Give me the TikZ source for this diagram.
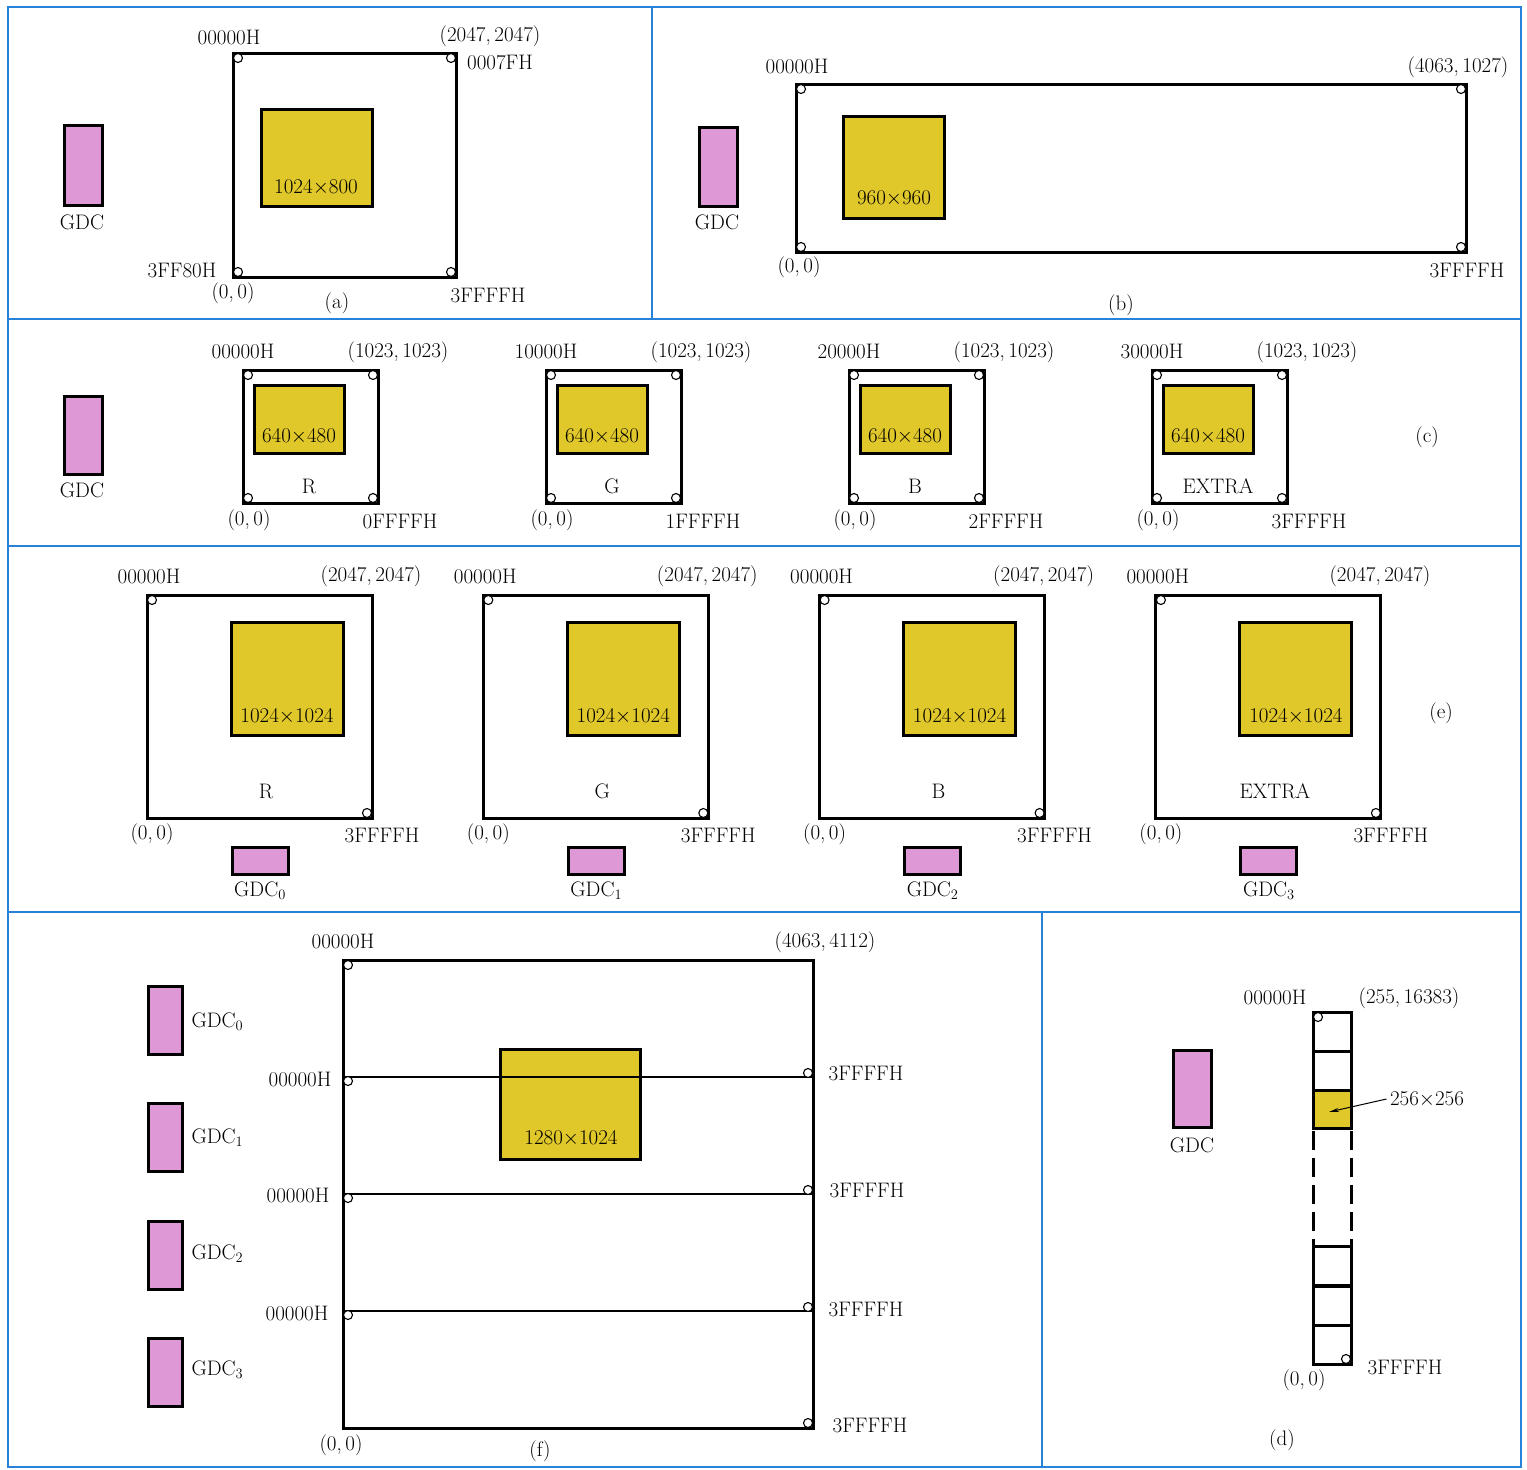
\documentclass[tikz,border=0pt]{standalone}
\usepackage{fontspec}
\usetikzlibrary{arrows.meta}
\definecolor{gdcpink}{RGB}{222,152,214}
\definecolor{winyellow}{RGB}{225,200,42}
\definecolor{frameblue}{RGB}{40,130,215}
\begin{document}
\begin{tikzpicture}[x=1pt, y=-1pt, font=\fontsize{21}{24}\selectfont,
  mem/.style={line width=3pt},
  win/.style={draw, line width=3pt, fill=winyellow},
  gdc/.style={draw, line width=3pt, fill=gdcpink},
  hole/.style={draw, line width=1.1pt, fill=white},
  frame/.style={frameblue, line width=1.8pt}]
\useasboundingbox (0,0) rectangle (1527,1470);
% panel frames
\draw[frame] (8,7) rectangle (1521,1467);
\draw[frame] (8,319) -- (1521,319) (8,546) -- (1521,546) (8,912) -- (1521,912);
\draw[frame] (652,7) -- (652,319) (1042,912) -- (1042,1467);

% (a) one GDC, 2048 x 2048 screen
\draw[gdc] (64,125) rectangle (102,205);
\node (a-gdc) at (82,222) {GDC};
\draw[mem] (233,53) rectangle (456,277);
\foreach \hx/\hy in {238/58, 451/58, 238/272, 451/272}
  \draw[hole] (\hx,\hy) circle (4.5pt);
\draw[win] (261,109) rectangle (372,206);
\node (a-win) at (316,187) {1024$\times$800};
\node (a-start) at (229,37) {00000H};
\node (a-max) at (490,36) {(2047,\,2047)};
\node (a-row) at (500,62) {0007FH};
\node (a-last) at (182,270) {3FF80H};
\node (a-orig) at (233,293) {(0,\,0)};
\node (a-end) at (488,295) {3FFFFH};
\node (a-cap) at (337,303) {(a)};

% (b) one GDC, 4064 x 1028 screen
\draw[gdc] (699,127) rectangle (737,206);
\node (b-gdc) at (717,222) {GDC};
\draw[mem] (796,84) rectangle (1466,252);
\foreach \hx/\hy in {801/89, 1461/89, 801/247, 1461/247}
  \draw[hole] (\hx,\hy) circle (4.5pt);
\draw[win] (843,116) rectangle (944,218);
\node (b-win) at (894,198) {960$\times$960};
\node (b-start) at (797,66) {00000H};
\node (b-max) at (1458,67) {(4063,\,1027)};
\node (b-orig) at (799,267) {(0,\,0)};
\node (b-end) at (1467,270) {3FFFFH};
\node (b-cap) at (1121,305) {(b)};

% (c) one GDC, four 1024 x 1024 planes
\draw[gdc] (64,396) rectangle (102,474);
\node (c-gdc) at (82,490) {GDC};
\foreach \i/\base/\last/\plane in {0/00000H/0FFFFH/R, 1/10000H/1FFFFH/G, 2/20000H/2FFFFH/B, 3/30000H/3FFFFH/EXTRA} {
\begin{scope}[xshift=\i*303]
\draw[mem] (243,370) rectangle (378,503);
\foreach \hx/\hy in {248/375, 373/375, 248/498, 373/498}
  \draw[hole] (\hx,\hy) circle (4.5pt);
\draw[win] (254,385) rectangle (344,453);
\node (c-win-\i) at (299,436) {640$\times$480};
\node (c-plane-\i) at (309,486) {\plane};
\node (c-start-\i) at (243,351) {\base};
\node (c-max-\i) at (398,352) {(1023,\,1023)};
\node (c-orig-\i) at (249,520) {(0,\,0)};
\node (c-end-\i) at (400,521) {\last};
\end{scope}
}
\node (c-cap) at (1427,437) {(c)};

% (e) four GDCs, four 2048 x 2048 planes
\foreach \i/\plane in {0/R, 1/G, 2/B, 3/EXTRA} {
\begin{scope}[xshift=\i*336.3]
\draw[mem] (147,595) rectangle (372,818);
\foreach \hx/\hy in {152/600, 367/813}
  \draw[hole] (\hx,\hy) circle (4.5pt);
\draw[win] (231,622) rectangle (343,735);
\node (e-win-\i) at (287,716) {1024$\times$1024};
\node (e-plane-\i) at (266,791) {\plane};
\node (e-start-\i) at (149,576) {00000H};
\node (e-max-\i) at (371,576) {(2047,\,2047)};
\node (e-orig-\i) at (152,834) {(0,\,0)};
\node (e-end-\i) at (382,835) {3FFFFH};
\draw[gdc] (232,847) rectangle (288,874);
\node (e-gdc-\i) at (260,891) {GDC$_{\i}$};
\end{scope}
}
\node (e-cap) at (1441,713) {(e)};

% (f) four GDCs stacked, 4064 x 4113 screen
\foreach \i in {0,...,3} {
\draw[gdc] (148,986+\i*117.5) rectangle (182,1054+\i*117.5);
\node[anchor=west] (f-gdc-\i) at (188,1022+\i*116) {GDC$_{\i}$};
}
\draw[win] (500,1049) rectangle (640,1159);
\node (f-win) at (571,1138) {1280$\times$1024};
\draw[mem] (343,960) rectangle (813,1428);
\foreach \ly in {1077,1194,1311}
  \draw[line width=2.4pt] (343,\ly) -- (813,\ly);
\draw[hole] (348,965) circle (4.5pt);
\foreach \ly in {1077,1194,1311} {
  \draw[hole] (348,\ly+4) circle (4.5pt);
  \draw[hole] (808,\ly-4) circle (4.5pt);
}
\draw[hole] (808,1423) circle (4.5pt);
\node (f-start) at (343,941) {00000H};
\node (f-max) at (825,942) {(4063,\,4112)};
\node (f-start-1) at (300,1079) {00000H};
\node (f-start-2) at (298,1195) {00000H};
\node (f-start-3) at (297,1313) {00000H};
\node (f-end-0) at (866,1073) {3FFFFH};
\node (f-end-1) at (867,1190) {3FFFFH};
\node (f-end-2) at (866,1309) {3FFFFH};
\node (f-end-3) at (870,1425) {3FFFFH};
\node (f-orig) at (341,1445) {(0,\,0)};
\node (f-cap) at (540,1451) {(f)};

% (d) one GDC, 256 x 16384 strip
\draw[gdc] (1173,1050) rectangle (1211,1127);
\node (d-gdc) at (1192,1145) {GDC};
\draw[mem] (1313,1012) rectangle (1351,1051);
\draw[mem] (1313,1051) rectangle (1351,1090);
\draw[win] (1313,1090) rectangle (1351,1128);
\draw[mem, dash pattern=on 19pt off 8pt] (1313,1131) -- (1313,1245) (1351,1131) -- (1351,1245);
\foreach \cy in {1246,1286,1325}
  \draw[mem] (1313,\cy) rectangle (1351,\cy+39);
\draw[hole] (1318,1017) circle (4.5pt);
\draw[hole] (1346,1359) circle (4.5pt);
\node (d-start) at (1275,997) {00000H};
\node (d-max) at (1409,998) {(255,\,16383)};
\node (d-size) at (1427,1099) {256$\times$256};
\coordinate (d-cell) at (1329,1112);
\draw[-{Stealth[length=10pt,width=4pt]}, line width=1pt] (d-size.west) -- (d-cell);
\node (d-orig) at (1304,1380) {(0,\,0)};
\node (d-end) at (1405,1367) {3FFFFH};
\node (d-cap) at (1282,1440) {(d)};
\end{tikzpicture}
\end{document}
